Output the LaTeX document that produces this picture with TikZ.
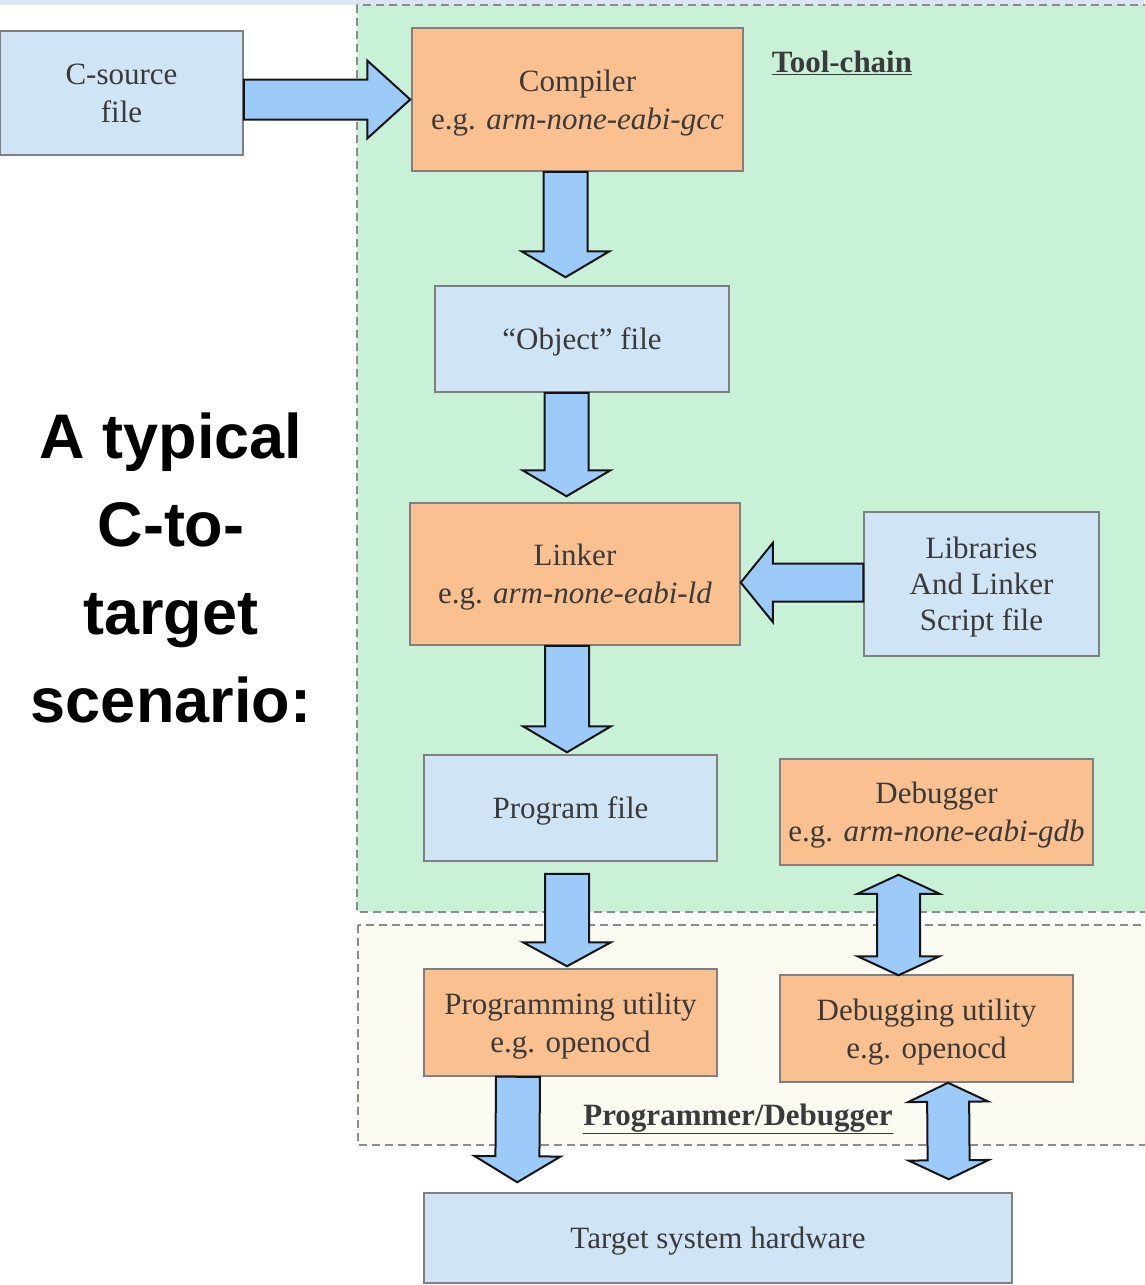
\documentclass[tikz,border=0pt]{standalone}
\usepackage{fontspec}
\setmainfont{Liberation Serif}
\newfontfamily\headfont{Liberation Sans}
\usetikzlibrary{calc}

\definecolor{stripfill}{RGB}{220,228,245}
\definecolor{greenfill}{RGB}{201,241,215}
\definecolor{creamfill}{RGB}{252,251,241}
\definecolor{regionline}{RGB}{140,140,140}
\definecolor{bluefill}{RGB}{207,228,244}
\definecolor{orangefill}{RGB}{250,192,143}
\definecolor{boxline}{RGB}{128,128,128}
\definecolor{boxtext}{RGB}{58,58,58}
\definecolor{arrowfill}{RGB}{156,203,250}
\definecolor{arrowline}{RGB}{20,20,20}

% single block arrow: tail, tip, shaft half width, head half width, head length
\newcommand\blkarrow[5]{%
  \path ($(#2)!#5!(#1)$) coordinate (hb);
  \filldraw[blockarrow] ($(#1)!#3!90:(#2)$) -- ($(hb)!#3!90:(#2)$) -- ($(hb)!#4!90:(#2)$)
    -- (#2) -- ($(hb)!#4!-90:(#2)$) -- ($(hb)!#3!-90:(#2)$) -- ($(#1)!#3!-90:(#2)$) -- cycle;
}
% double-headed block arrow: tip, tip, shaft half width, head half width, head length
\newcommand\blkdouble[5]{%
  \path ($(#1)!#5!(#2)$) coordinate (ha) ($(#2)!#5!(#1)$) coordinate (hb);
  \filldraw[blockarrow] (#1) -- ($(ha)!#4!90:(#2)$) -- ($(ha)!#3!90:(#2)$)
    -- ($(hb)!#3!-90:(#1)$) -- ($(hb)!#4!-90:(#1)$) -- (#2)
    -- ($(hb)!#4!90:(#1)$) -- ($(hb)!#3!90:(#1)$)
    -- ($(ha)!#3!-90:(#2)$) -- ($(ha)!#4!-90:(#2)$) -- cycle;
}

\begin{document}
\begin{tikzpicture}[x=1pt,y=-1pt,
  box/.style={draw=boxline, line width=1.5pt, inner sep=0pt, align=center,
    text=boxtext, text depth=0pt, font=\fontsize{31}{38}\selectfont},
  bluebox/.style={box, fill=bluefill},
  orangebox/.style={box, fill=orangefill},
  blockarrow/.style={draw=arrowline, fill=arrowfill, line width=2pt, line join=miter},
  region/.style={draw=regionline, line width=1.5pt, dash pattern=on 8pt off 5pt},
  areatitle/.style={font=\fontsize{31}{36}\selectfont\bfseries, text=boxtext, inner sep=0pt},
]
\useasboundingbox (0,0) rectangle (1144,1285);

% background areas
\fill[stripfill] (0,0) rectangle (1144,5);
\filldraw[region, fill=greenfill] (357,5) rectangle (1160,912);
\filldraw[region, fill=creamfill] (358,925) rectangle (1160,1145);

\node[areatitle, anchor=base] (tc) at (842,72) {\underline{Tool-chain}};
\node[areatitle, anchor=base] (pd) at (738,1125) {\underline{Programmer/Debugger}};

% heading
\node[font=\headfont\bfseries\fontsize{63}{87.7}\selectfont, align=center,
  inner sep=0pt, anchor=base] (head) at (171,722) {A typical\\C-to-\\target\\scenario:};

% boxes
\node[bluebox, minimum width=243pt, minimum height=124pt] (src) at (121.5,93) {C-source\\file};
\node[orangebox, minimum width=331pt, minimum height=143pt] (comp) at (577.5,99.5)
  {Compiler\\e.g. \textit{arm-none-eabi-gcc}};
\node[bluebox, minimum width=294pt, minimum height=106pt] (obj) at (582,339) {“Object” file};
\node[orangebox, minimum width=330pt, minimum height=142pt] (link) at (575,574)
  {Linker\\e.g. \textit{arm-none-eabi-ld}};
\node[bluebox, minimum width=235pt, minimum height=144pt, font=\fontsize{31}{36}\selectfont]
  (lib) at (981.5,584) {Libraries\\And Linker\\Script file};
\node[bluebox, minimum width=293pt, minimum height=106pt] (prog) at (570.5,808) {Program file};
\node[orangebox, minimum width=313pt, minimum height=106pt] (dbg) at (936.5,812)
  {Debugger\\e.g. \textit{arm-none-eabi-gdb}};
\node[orangebox, minimum width=293pt, minimum height=107pt] (putil) at (570.5,1022.5)
  {Programming utility\\e.g. openocd};
\node[orangebox, minimum width=293pt, minimum height=107pt] (dutil) at (926.5,1028.5)
  {Debugging utility\\e.g. openocd};
\node[bluebox, minimum width=588pt, minimum height=90pt] (target) at (718,1238)
  {Target system hardware};

% connector ends
\coordinate (a1t) at ($(src.east)+(0,6.5)$);
\coordinate (a1h) at ($(comp.west)+(-1,0)$);
\coordinate (a2t) at ($(comp.south)+(-12,0)$);
\coordinate (a2h) at ($(obj.north)+(-16.5,-8)$);
\coordinate (a3t) at ($(obj.south)+(-15.5,0)$);
\coordinate (a3h) at ($(link.north)+(-8.5,-6)$);
\coordinate (a4t) at ($(lib.west)+(0,-1.5)$);
\coordinate (a4h) at ($(link.east)+(0,8.5)$);
\coordinate (a5t) at ($(link.south)+(-8,0)$);
\coordinate (a5h) at ($(prog.north)+(-3.5,-2)$);
\coordinate (a6t) at ($(prog.south)+(-3.5,12)$);
\coordinate (a6h) at ($(putil.north)+(-3.5,-2)$);
\coordinate (a7t) at ($(putil.south)+(-52.5,0)$);
\coordinate (a7h) at ($(target.north west)+(94,-10)$);
\coordinate (d1a) at ($(dbg.south)+(-38,9)$);
\coordinate (d1b) at ($(dutil.north)+(-28,1)$);
\coordinate (d2a) at ($(dutil.south)+(21.5,0)$);
\coordinate (d2b) at ($(target.north east)+(-64,-13)$);

% block arrows
\blkarrow{a1t}{a1h}{20pt}{39pt}{43pt}
\blkarrow{a2t}{a2h}{22pt}{44pt}{26pt}
\blkarrow{a3t}{a3h}{22pt}{44pt}{26pt}
\blkarrow{a4t}{a4h}{19pt}{39.5pt}{32pt}
\blkarrow{a5t}{a5h}{22pt}{44pt}{26pt}
\blkarrow{a6t}{a6h}{22pt}{44pt}{24pt}
\blkarrow{a7t}{a7h}{22pt}{43pt}{26pt}
\blkdouble{d1a}{d1b}{21.5pt}{41pt}{19pt}
\blkdouble{d2a}{d2b}{21pt}{40pt}{19pt}
\end{tikzpicture}
\end{document}
